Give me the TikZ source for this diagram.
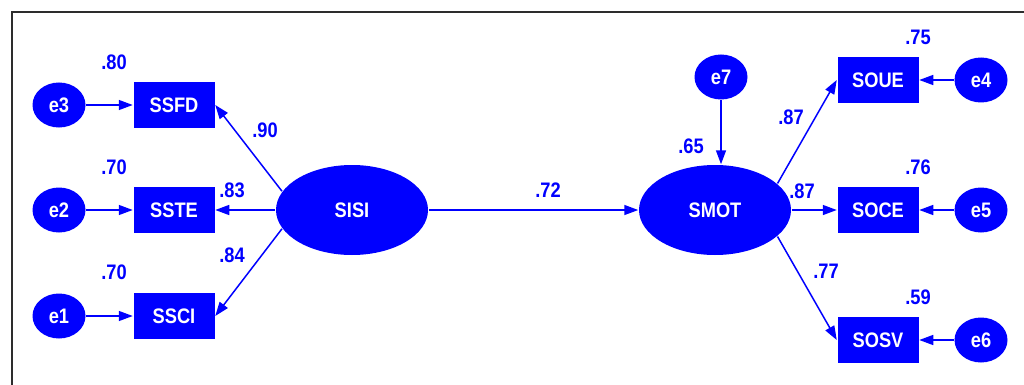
\documentclass[tikz,border=0pt]{standalone}
\usepackage{fontspec}
\setmainfont{Liberation Sans}[FakeStretch=0.87]
\usetikzlibrary{arrows.meta, positioning, shapes.geometric}

\definecolor{amosblue}{RGB}{0,0,255}
\definecolor{framegray}{RGB}{45,45,45}

\begin{document}
\begin{tikzpicture}[
    x=1pt, y=-1pt,
    ->,
    >={Triangle[length=14pt, width=10pt]},
    line width=1.5pt,
    color=amosblue,
    on grid,
    font=\fontsize{21}{25}\selectfont\bfseries,
    latent/.style={ellipse, fill=amosblue, text=white, minimum width=152pt, minimum height=90pt, inner sep=0pt},
    errvar/.style={ellipse, fill=amosblue, text=white, minimum width=53pt, minimum height=45pt, inner sep=0pt},
    observed/.style={rectangle, fill=amosblue, text=white, minimum width=81pt, minimum height=46pt, inner sep=0pt},
    coef/.style={text=amosblue, inner sep=0pt},
]
    \useasboundingbox (0,0) rectangle (1024,385);
    \draw[-, framegray, line width=2.5pt] (12,385) -- (12,12) -- (1024,12);

    \node[latent]                   (SISI) at (352,210) {SISI};
    \node[latent, right=363pt of SISI] (SMOT) {SMOT};

    \node[observed, left=178pt of SISI]  (SSTE) {SSTE};
    \node[observed, above=105pt of SSTE] (SSFD) {SSFD};
    \node[observed, below=106pt of SSTE] (SSCI) {SSCI};
    \node[errvar, left=115pt of SSFD] (e3) {e3};
    \node[errvar, left=115pt of SSTE] (e2) {e2};
    \node[errvar, left=115pt of SSCI] (e1) {e1};

    \node[observed, right=163pt of SMOT] (SOCE) {SOCE};
    \node[observed, above=130pt of SOCE] (SOUE) {SOUE};
    \node[observed, below=130pt of SOCE] (SOSV) {SOSV};
    \node[errvar, right=103pt of SOUE] (e4) {e4};
    \node[errvar, right=103pt of SOCE] (e5) {e5};
    \node[errvar, right=103pt of SOSV] (e6) {e6};
    \node[errvar] (e7) at (721,77) {e7};

    % squared multiple correlations
    \node[coef] (r80)  at (114,62)  {.80};
    \node[coef] (r70a) at (114,167) {.70};
    \node[coef] (r70b) at (114,272) {.70};
    \node[coef] (r65)  at (691,146) {.65};
    \node[coef] (r75)  at (918,37)  {.75};
    \node[coef] (r76)  at (918,167) {.76};
    \node[coef] (r59)  at (918,297) {.59};

    % loadings and path
    \node[coef] (w90) at (265,130) {.90};
    \node[coef] (w83) at (232,190) {.83};
    \node[coef] (w84) at (232,255) {.84};
    \node[coef] (w72) at (548,190) {.72};
    \node[coef] (w87a) at (791,117) {.87};
    \node[coef] (w87b) at (802,191) {.87};
    \node[coef] (w77) at (826,271) {.77};

    \path
        (e3) edge (SSFD)
        (e2) edge (SSTE)
        (e1) edge (SSCI)
        (SISI.165) edge (SSFD.east)
        (SISI)     edge (SSTE)
        (SISI.195) edge (SSCI.east)
        (SISI)     edge (SMOT)
        (e7.south) edge (e7.south |- SMOT.north)
        (SMOT.23)  edge (SOUE.west)
        (SMOT)     edge (SOCE)
        (SMOT.-23) edge (SOSV.west)
        (e4) edge (SOUE)
        (e5) edge (SOCE)
        (e6) edge (SOSV)
    ;
\end{tikzpicture}
\end{document}
